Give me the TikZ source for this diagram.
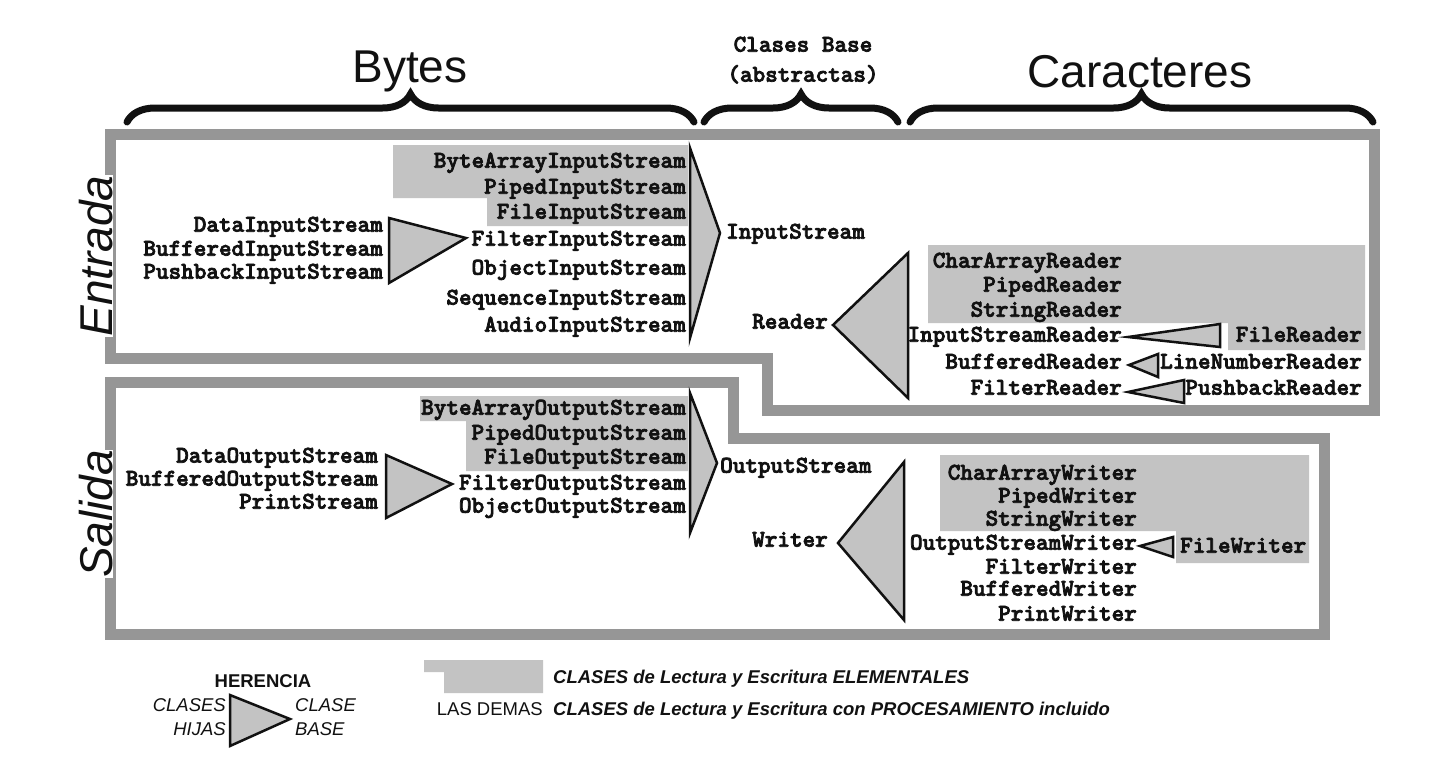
\documentclass[tikz,border=0pt]{standalone}
\usepackage{fontspec}
\setmainfont{Liberation Sans}
\newfontfamily\clsfam{lmmonolt10-bold.otf}[FakeBold=3]
\usetikzlibrary{decorations.pathreplacing}
\definecolor{framegray}{HTML}{969696}
\definecolor{hlgray}{HTML}{C3C3C3}
\definecolor{ink}{HTML}{111111}
\newcommand\clsfont{\fontsize{24}{26}\clsfam}
\begin{document}
\begin{tikzpicture}[x=1pt,y=-1pt,
  cls/.style={font=\clsfont, text=ink, inner sep=0pt, anchor=mid east, yshift=-3pt},
  clsl/.style={cls, anchor=mid west},
  frm/.style={draw=framegray, line width=11pt},
  hlbox/.style={fill=hlgray},
  inh/.style={draw=ink, fill=hlgray, line width=2.5pt},
  brc/.style={decorate, decoration={brace, amplitude=28pt}, line width=7pt, draw=ink, line cap=round},
  ttl/.style={font=\fontsize{46}{46}\selectfont, text=ink, inner sep=0pt},
  side/.style={font=\fontsize{46}{46}\selectfont\itshape, rotate=90, fill=white, inner sep=0pt, text=ink},
  leg/.style={font=\fontsize{18.5}{20}\selectfont, inner sep=0pt, text=ink}]
\useasboundingbox (0,0) rectangle (1435,780);

% titles and braces
\node[ttl] (bytes) at (410,71) {Bytes};
\node[cls, anchor=mid] (clasesbase) at (803,46) {Clases Base};
\node[cls, anchor=mid] (abstractas) at (803,76) {(abstractas)};
\node[ttl] (caracteres) at (1140,72) {Caracteres};
\draw[brc] (127,122) -- (694,122);
\draw[brc] (704,122) -- (898,122);
\draw[brc] (910,122) -- (1373,122);

% frames
\draw[frm] (110,134) -- (1374,134) -- (1374,410) -- (767,410) -- (767,358) -- (110,358) -- cycle;
\draw[frm] (110,382) -- (733,382) -- (733,438) -- (1324,438) -- (1324,634) -- (110,634) -- cycle;
\node[side, anchor=south] (entrada) at (113,256) {Entrada};
\node[side, anchor=south] (salida) at (113,514) {Salida};

% highlighted (elementary) classes
\fill[hlgray] (393,145) -- (688,145) -- (688,226) -- (487,226) -- (487,198) -- (393,198) -- cycle;
\fill[hlgray] (420,396) -- (688,396) -- (688,471) -- (466,471) -- (466,421) -- (420,421) -- cycle;
\fill[hlgray] (928,245) -- (1365,245) -- (1365,350) -- (1228,350) -- (1228,323) -- (928,323) -- cycle;
\fill[hlgray] (940,455) -- (1309,455) -- (1309,563) -- (1176,563) -- (1176,531) -- (940,531) -- cycle;

% inheritance triangles
\draw[inh] (690,148) -- (720,233) -- (690,338) -- cycle;
\draw[inh] (389,218) -- (466,238) -- (389,283) -- cycle;
\draw[inh] (690,393) -- (717,463) -- (690,533) -- cycle;
\draw[inh] (386,455) -- (452,484) -- (386,518) -- cycle;
\draw[inh] (908,253) -- (833,325) -- (908,398) -- cycle;
\draw[inh] (904,462) -- (838,543) -- (904,620) -- cycle;
\draw[inh] (1220,324) -- (1128,337) -- (1220,347) -- cycle;
\draw[inh] (1158,354) -- (1129,365) -- (1158,377) -- cycle;
\draw[inh] (1184,380) -- (1128,392) -- (1184,403) -- cycle;
\draw[inh] (1173,537) -- (1140,546) -- (1173,557) -- cycle;

% byte input
\foreach \n/\y in {ByteArrayInputStream/162, PipedInputStream/188, FileInputStream/213,
  FilterInputStream/240, ObjectInputStream/269, SequenceInputStream/299, AudioInputStream/326}
  \node[cls] (\n) at (686,\y) {\n};
\foreach \n/\y in {DataInputStream/226, BufferedInputStream/250, PushbackInputStream/273}
  \node[cls] (\n) at (383,\y) {\n};
\node[clsl] (InputStream) at (726,233) {InputStream};

% byte output
\foreach \n/\y in {ByteArrayOutputStream/409, PipedOutputStream/434, FileOutputStream/458,
  FilterOutputStream/484, ObjectOutputStream/507}
  \node[cls] (\n) at (686,\y) {\n};
\foreach \n/\y in {DataOutputStream/457, BufferedOutputStream/480, PrintStream/503}
  \node[cls] (\n) at (378,\y) {\n};
\node[clsl] (OutputStream) at (720,467) {OutputStream};

% readers
\node[cls] (Reader) at (828,323) {Reader};
\foreach \n/\y in {CharArrayReader/262, PipedReader/286, StringReader/311,
  InputStreamReader/336, BufferedReader/363, FilterReader/389}
  \node[cls] (\n) at (1122,\y) {\n};
\foreach \n/\y in {FileReader/336, LineNumberReader/363, PushbackReader/389}
  \node[cls] (\n) at (1362,\y) {\n};

% writers
\node[cls] (Writer) at (828,541) {Writer};
\foreach \n/\y in {CharArrayWriter/474, PipedWriter/497, StringWriter/520,
  OutputStreamWriter/544, FilterWriter/568, BufferedWriter/590, PrintWriter/615}
  \node[cls] (\n) at (1137,\y) {\n};
\node[clsl] (FileWriter) at (1180,547) {FileWriter};

% legend
\node[leg, font=\fontsize{18.5}{20}\selectfont\bfseries] (herencia) at (263,681) {HERENCIA};
\draw[inh] (230,695) -- (290,719) -- (230,746) -- cycle;
\node[leg, font=\fontsize{18.5}{20}\selectfont\itshape, anchor=mid east] (clases) at (226,709) {CLASES};
\node[leg, font=\fontsize{18.5}{20}\selectfont\itshape, anchor=mid east] (hijas) at (226,733) {HIJAS};
\node[leg, font=\fontsize{18.5}{20}\selectfont\itshape, anchor=mid west] (clase) at (295,709) {CLASE};
\node[leg, font=\fontsize{18.5}{20}\selectfont\itshape, anchor=mid west] (base) at (295,733) {BASE};
\fill[hlgray] (424,660) -- (543,660) -- (543,693) -- (444,693) -- (444,672) -- (424,672) -- cycle;
\node[leg, font=\fontsize{18.5}{20}\selectfont\bfseries\itshape, anchor=mid west] (elem) at (553,681) {CLASES de Lectura y Escritura ELEMENTALES};
\node[leg, anchor=mid east] (demas) at (543,713) {LAS DEMAS};
\node[leg, font=\fontsize{18.5}{20}\selectfont\bfseries\itshape, anchor=mid west] (proc) at (553,713) {CLASES de Lectura y Escritura con PROCESAMIENTO incluido};
\end{tikzpicture}
\end{document}
